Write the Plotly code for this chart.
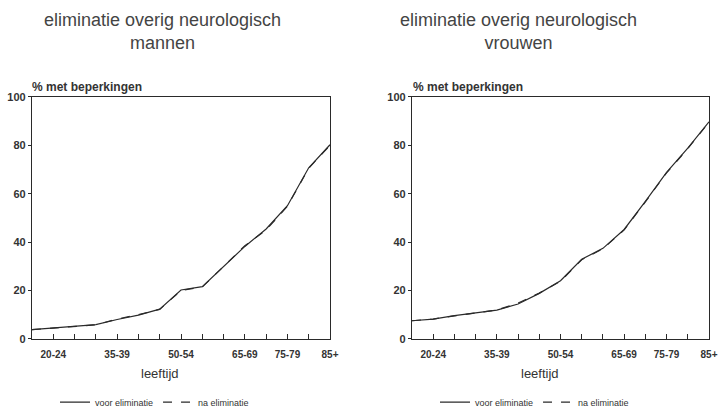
import plotly.graph_objects as go

categories = ["15-19", "20-24", "25-29", "30-34", "35-39", "40-44", "45-49", "50-54",
              "55-59", "60-64", "65-69", "70-74", "75-79", "80-84", "85+"]
tick_labels = ["", "20-24", "", "", "35-39", "", "", "50-54", "", "", "65-69", "", "75-79", "", "85+"]

mannen_voor = [3.8, 4.5, 4.9, 5.9, 8.0, 9.8, 12.3, 20.2, 21.6, 29.7, 38.2, 45.4, 55.0, 70.7, 80.2]
mannen_na = [3.8, 4.5, 4.9, 5.8, 8.2, 10.0, 12.2, 20.0, 21.4, 29.9, 38.5, 45.0, 54.8, 70.5, 80.0]
vrouwen_voor = [7.5, 8.2, 9.6, 10.7, 11.9, 14.4, 18.8, 24.0, 32.9, 37.4, 45.2, 56.8, 68.8, 78.8, 89.7]
vrouwen_na = [7.5, 8.2, 9.5, 10.6, 11.9, 14.8, 18.9, 23.8, 32.7, 37.2, 45.0, 56.6, 68.6, 78.6, 89.5]

xs = list(range(len(categories)))
line_col = "#2a2a2a"
txt_col = "#333333"

fig = go.Figure()
for vals_voor, vals_na, xa, ya, lg in [(mannen_voor, mannen_na, "x", "y", "legend"),
                                       (vrouwen_voor, vrouwen_na, "x2", "y2", "legend2")]:
    fig.add_trace(go.Scatter(x=xs, y=vals_voor, mode="lines", name="voor eliminatie",
                             line=dict(color=line_col, width=1.2), xaxis=xa, yaxis=ya, legend=lg,
                             customdata=categories))
    fig.add_trace(go.Scatter(x=xs, y=vals_na, mode="lines", name="na eliminatie",
                             line=dict(color=line_col, width=1.2, dash="dash"), xaxis=xa, yaxis=ya,
                             legend=lg, customdata=categories))

W, H = 718, 417
def px(x):
    return x / W
def py(y):
    return 1 - y / H

xaxis_common = dict(range=[0, len(categories) - 1], tickmode="array", tickvals=xs[1:],
                    ticktext=tick_labels[1:], ticks="inside", ticklen=5, tickcolor=line_col,
                    showline=True, linecolor=line_col, linewidth=1.2, mirror=True,
                    showgrid=False, zeroline=False, automargin=False, ticklabelstandoff=6,
                    tickfont=dict(family="Liberation Sans", size=10, color=txt_col, weight="bold"))
yaxis_common = dict(range=[0, 100], tickvals=[0, 20, 40, 60, 80, 100], ticks="outside", ticklen=3,
                    tickcolor=line_col, showline=True, linecolor=line_col, linewidth=1.2, mirror=True,
                    showgrid=False, zeroline=False, automargin=False,
                    tickfont=dict(family="Liberation Sans", size=11, color=txt_col, weight="bold"))

fig.update_layout(
    width=W, height=H, margin=dict(l=0, r=0, t=0, b=0),
    paper_bgcolor="white", plot_bgcolor="white",
    xaxis=dict(domain=[px(32), px(330)], anchor="y", **xaxis_common),
    yaxis=dict(domain=[py(343), py(98)], anchor="x", **yaxis_common),
    xaxis2=dict(domain=[px(412), px(709)], anchor="y2", **xaxis_common),
    yaxis2=dict(domain=[py(343), py(98)], anchor="x2", **yaxis_common),
    legend=dict(orientation="h", x=px(55), y=py(407), xanchor="left", yanchor="middle",
                font=dict(family="Liberation Sans", size=9, color=txt_col), itemwidth=30,
                bgcolor="rgba(0,0,0,0)"),
    legend2=dict(orientation="h", x=px(435), y=py(407), xanchor="left", yanchor="middle",
                 font=dict(family="Liberation Sans", size=9, color=txt_col), itemwidth=30,
                 bgcolor="rgba(0,0,0,0)"),
    showlegend=True,
)

for cx, sub in [(162, "mannen"), (518, "vrouwen")]:
    fig.add_annotation(text="eliminatie overig neurologisch<br>" + sub, x=px(cx), y=py(32),
                       xref="paper", yref="paper", showarrow=False, xanchor="center", yanchor="middle",
                       font=dict(family="Liberation Sans", size=18, color="#444444"))
for lx in [30, 411]:
    fig.add_annotation(text="% met beperkingen", x=px(lx), y=py(88), xref="paper", yref="paper",
                       showarrow=False, xanchor="left", yanchor="middle",
                       font=dict(family="Liberation Sans", size=12, color=txt_col, weight="bold"))
for cx in [160, 540]:
    fig.add_annotation(text="leeftijd", x=px(cx), y=py(378), xref="paper", yref="paper",
                       showarrow=False, xanchor="center", yanchor="middle",
                       font=dict(family="Liberation Sans", size=13, color=txt_col))

fig.write_html("out.html")
